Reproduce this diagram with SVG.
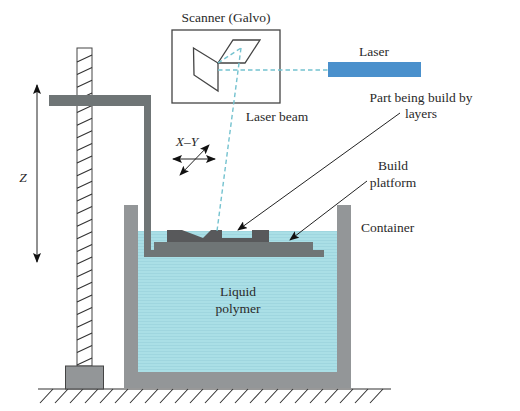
<svg xmlns="http://www.w3.org/2000/svg" width="520" height="411" viewBox="0 0 520 411">
<style>
text{font-family:"Liberation Serif","Times New Roman",serif;font-size:13.5px;fill:#2a2a2a}
.c{text-anchor:middle}
.i{font-style:italic}
.ln{fill:none;stroke:#333;stroke-width:1.1}
.box{fill:none;stroke:#444;stroke-width:1.3}
.beam{fill:none;stroke:#74c2cf;stroke-width:1.4;stroke-dasharray:4.5 3}
.ar{fill:none;stroke:#222;stroke-width:1;marker-end:url(#ah)}
.ard{fill:none;stroke:#222;stroke-width:1;marker-start:url(#ahs);marker-end:url(#ah)}
</style>
<defs>
<marker id="ah" viewBox="0 0 10 8" refX="9" refY="4" markerWidth="10" markerHeight="8" markerUnits="userSpaceOnUse" orient="auto"><path d="M0 0L10 4L0 8L2 4Z" fill="#111"/></marker>
<marker id="ahs" viewBox="0 0 10 8" refX="1" refY="4" markerWidth="10" markerHeight="8" markerUnits="userSpaceOnUse" orient="auto"><path d="M10 0L0 4L10 8L8 4Z" fill="#111"/></marker>
<pattern id="liq" width="4" height="3" patternUnits="userSpaceOnUse"><rect width="4" height="3" fill="#aadfe6"/><rect width="4" height="1" fill="#9fd6df"/></pattern>
</defs>
<g id="ground">
<path class="ln" d="M38 389H391"/>
<path class="ln" d="M53 389L40 403M68 389L55 403M83 389L70 403M98 389L85 403M113 389L100 403M128 389L115 403M143 389L130 403M158 389L145 403M173 389L160 403M188 389L175 403M203 389L190 403M218 389L205 403M233 389L220 403M248 389L235 403M263 389L250 403M278 389L265 403M293 389L280 403M308 389L295 403M323 389L310 403M338 389L325 403M353 389L340 403M368 389L355 403M383 389L370 403"/>
</g>
<g id="container">
<rect x="138" y="231" width="199" height="141" fill="url(#liq)"/>
<path d="M124 205H138V372H337V205H351V388H124Z" fill="#939698"/>
</g>
<g id="rod">
<rect x="77" y="48" width="15" height="318" fill="#fff" stroke="#444" stroke-width="1"/>
<path class="ln" d="M77 62L92 55M77 74.6L92 67.6M77 87.3L92 80.3M77 99.900L92 92.900M77 112.500L92 105.500M77 125.200L92 118.200M77 137.800L92 130.800M77 150.400L92 143.400M77 163L92 156M77 175.700L92 168.700M77 188.300L92 181.300M77 200.900L92 193.900M77 213.600L92 206.600M77 226.200L92 219.200M77 238.800L92 231.800M77 251.500L92 244.500M77 264.100L92 257.100M77 276.700L92 269.700M77 289.300L92 282.300M77 302L92 295M77 314.600L92 307.600M77 327.200L92 320.200M77 339.900L92 332.900M77 352.500L92 345.500M77 365L92 358"/>
</g>
<g id="foot"><rect x="65.500" y="366" width="38" height="23" fill="#939698" stroke="#444" stroke-width="1"/></g>
<g id="platform">
<path d="M49 95H151V250H154V242H313V250H324V257H144V106H49Z" fill="#6f7576"/>
<path d="M167 230H182L203 238L211 230H222V238H252V230H269V242H167Z" fill="#58595b"/>
</g>
<g id="scanner">
<rect class="box" x="172" y="30" width="108" height="73"/>
<path class="box" d="M193.500 48L218 63V91L194 75Z"/>
<path class="box" d="M218 63L233 40H260L245 63Z"/>
</g>
<g id="laser"><rect x="328" y="62" width="93" height="15" fill="#4a90cc"/></g>
<g id="connectors">
<path class="beam" d="M218 70H328"/>
<path class="beam" d="M218 63L241 48"/>
<path class="beam" d="M241 48L217 231"/>
<path class="ard" d="M37 262V85"/>
<path class="ard" d="M173 159H215"/>
<path class="ard" d="M180 175L209 145"/>
<path class="ar" d="M400 113L238 230"/>
<path class="ar" d="M367 181L290 240"/>
</g>
<g id="labels">
<text x="226" y="22" class="c">Scanner (Galvo)</text>
<text x="374" y="56" class="c">Laser</text>
<text x="277" y="121" class="c">Laser beam</text>
<text x="421" y="102" class="c">Part being build by</text>
<text x="421" y="118" class="c">layers</text>
<text x="393" y="170" class="c">Build</text>
<text x="393" y="187" class="c">platform</text>
<text x="361" y="232">Container</text>
<text x="238" y="296" class="c">Liquid</text>
<text x="238" y="313" class="c">polymer</text>
<text x="23" y="182" class="c i">Z</text>
<text x="187" y="146" class="c i">X–Y</text>
</g>
</svg>
